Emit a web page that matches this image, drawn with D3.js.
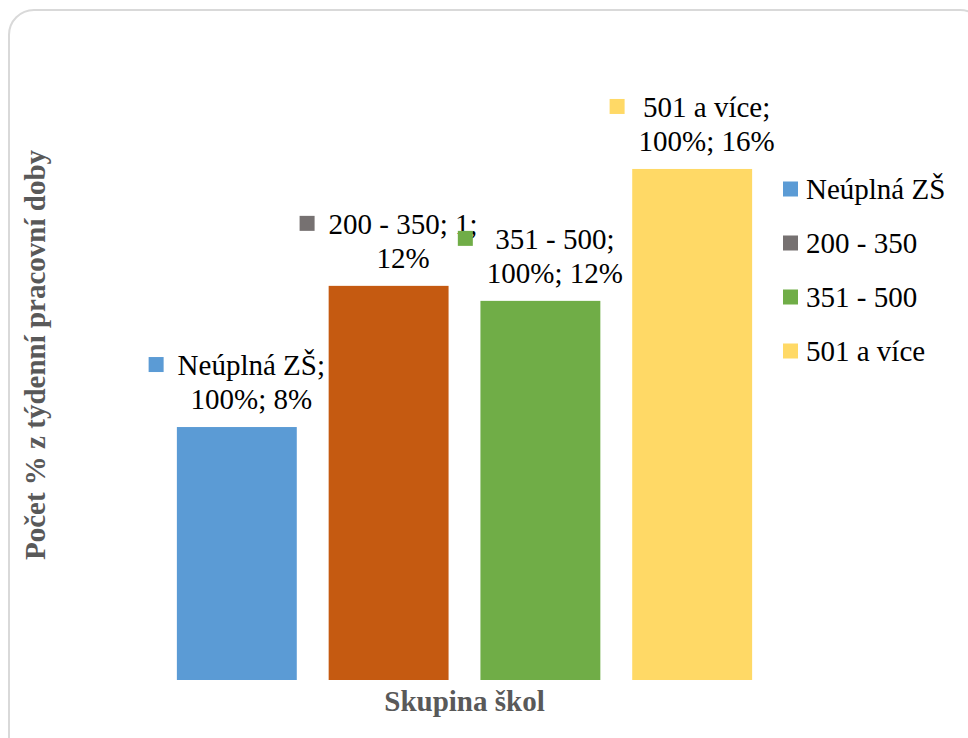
<!DOCTYPE html>
<html>
  <head>
    <title>Skupina škol</title>
    <meta charset="utf-8">
    <script type="text/javascript" src="https://cdn.jsdelivr.net/npm/d3@7"></script>
    <style type="text/css">
        body { margin: 0; background: #fff; }
        svg { display: block; }
        svg text { font-family: "Times New Roman", "Liberation Serif", Tinos, "DejaVu Serif", serif; }
    </style>
  </head>
  <body>
    <div id="viz"></div>
    <script type="text/javascript">

    // data
    var categories = ["Neúplná ZŠ", "200 - 350", "351 - 500", "501 a více"];
    var values = [7.92, 12.34, 11.87, 16.0];
    var barColors = ["#5b9bd5", "#c55a11", "#70ad47", "#ffd966"];
    var legendColors = ["#5b9bd5", "#767171", "#70ad47", "#ffd966"];
    var labelLines = [
        ["Neúplná ZŠ;", "100%; 8%"],
        ["200 - 350; 1;", "12%"],
        ["351 - 500;", "100%; 12%"],
        ["501 a více;", "100%; 16%"]
    ];
    var yTitle = "Počet % z týdenní pracovní doby";
    var xTitle = "Skupina škol";

    var W = 968, H = 738;
    var svg = d3.select("#viz").append("svg").attr("width", W).attr("height", H);

    // card border
    svg.append("rect")
        .attr("x", 9).attr("y", 10)
        .attr("width", 976).attr("height", 760)
        .attr("rx", 25).attr("ry", 25)
        .attr("fill", "#fff")
        .attr("stroke", "#d9d9d9").attr("stroke-width", 2);

    var x = d3.scaleBand()
        .domain(categories)
        .range([145, 784])
        .paddingInner(0.21)
        .paddingOuter(0.21);

    var y = d3.scaleLinear()
        .domain([0, 18])
        .range([680, 680 - 18 * 31.94]);

    svg.selectAll("rect.bar")
        .data(values)
        .enter().append("rect")
        .attr("class", "bar")
        .attr("x", function(d, i) { return x(categories[i]); })
        .attr("y", function(d) { return y(d); })
        .attr("width", x.bandwidth())
        .attr("height", function(d) { return y(0) - y(d); })
        .attr("fill", function(d, i) { return barColors[i]; });

    // data labels: key square + centred text lines above each bar
    var fs = 29;
    values.forEach(function(v, i) {
        var g = svg.append("g");
        var base2 = y(v) - 18;
        var base1 = base2 - 34;
        var texts = labelLines[i].map(function(s, j) {
            return g.append("text")
                .attr("y", j === 0 ? base1 : base2)
                .attr("font-size", fs)
                .attr("fill", "#000")
                .attr("text-anchor", "middle")
                .text(s);
        });
        var tw = d3.max(texts, function(t) { return t.node().getComputedTextLength(); });
        var blockW = 15 + 14 + tw;
        var left = x(categories[i]) + x.bandwidth() / 2 - blockW / 2;
        var textCenter = left + 29 + tw / 2;
        texts.forEach(function(t) { t.attr("x", textCenter); });
        g.append("rect")
            .attr("x", left).attr("y", base1 - 18)
            .attr("width", 15).attr("height", 15)
            .attr("fill", legendColors[i]);
    });

    // legend
    var legend = svg.append("g");
    categories.forEach(function(c, i) {
        var cy = 189 + i * 54;
        legend.append("rect")
            .attr("x", 783).attr("y", cy - 7.5)
            .attr("width", 15).attr("height", 15)
            .attr("fill", legendColors[i]);
        legend.append("text")
            .attr("x", 806).attr("y", cy + 10)
            .attr("font-size", fs)
            .attr("fill", "#000")
            .text(c);
    });

    // axis titles
    svg.append("text")
        .attr("x", (x.range()[0] + x.range()[1]) / 2)
        .attr("y", 711)
        .attr("text-anchor", "middle")
        .attr("font-size", fs)
        .attr("font-weight", "bold")
        .attr("fill", "#595959")
        .text(xTitle);

    svg.append("text")
        .attr("transform", "translate(45,355) rotate(-90)")
        .attr("text-anchor", "middle")
        .attr("font-size", fs)
        .attr("font-weight", "bold")
        .attr("fill", "#595959")
        .text(yTitle);

    </script>
  </body>
</html>
